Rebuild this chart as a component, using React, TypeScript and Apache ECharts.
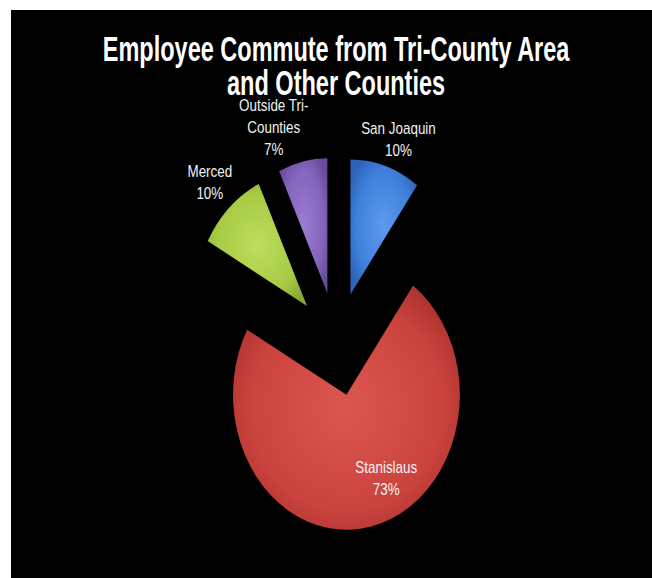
import React, { useEffect, useRef } from 'react';
import * as echarts from 'echarts';

// ---- data ----
const titleLines = ['Employee Commute from Tri-County Area', 'and Other Counties'];
const categories = ['San Joaquin', 'Stanislaus', 'Merced', 'Outside Tri-Counties'];
const labelNames = ['San Joaquin', 'Stanislaus', 'Merced', 'Outside Tri-\nCounties'];
const shares = [10, 73, 10, 7];
const labelInside = [false, true, false, false];

// ---- style ----
const palette = [
  ['#5C9BEE', '#3E7FDA', '#2C63B8'],
  ['#DC5650', '#CC433E', '#A8302D'],
  ['#BCDD5E', '#A6CB44', '#88AA32'],
  ['#9A7CD0', '#8464BC', '#684C9C'],
];
const FONT = "'Liberation Sans', Arial, sans-serif";
const SX = 0.84;
const W = 763;
const H = 568;
const CENTER = [388, 334];
const R = 135;
const OFFSET = 52;
// small label nudges (unscaled px)
const nudge: Record<number, [number, number]> = { 0: [5, 6], 1: [32, 15], 3: [-27, -1] };

const grad = (i: number) => ({
  type: 'radial',
  x: 0.5,
  y: 0.5,
  r: 0.6,
  colorStops: [
    { offset: 0, color: palette[i][0] },
    { offset: 0.7, color: palette[i][1] },
    { offset: 1, color: palette[i][2] },
  ],
});

const layoutFn = (p: any) => {
  const n = nudge[p.dataIndex];
  return n ? { dx: n[0], dy: n[1] } : {};
};

export default function App() {
  const ref = useRef<HTMLDivElement>(null);
  useEffect(() => {
    if (!ref.current) return;
    const chart = echarts.init(ref.current, null, { renderer: 'svg', width: W, height: H });
    const labelStyle = {
      color: '#F2F2F2',
      fontSize: 16,
      lineHeight: 22,
      fontFamily: FONT,
    };
    chart.setOption({
      animation: false,
      backgroundColor: '#000',
      graphic: [
        {
          type: 'text',
          x: 387,
          y: 22,
          scaleX: 0.8,
          style: {
            text: titleLines.join('\n'),
            fill: '#FFFFFF',
            fontSize: 35,
            fontWeight: 'bold',
            fontFamily: FONT,
            lineHeight: 34,
            align: 'center',
            textAlign: 'center',
            verticalAlign: 'top',
            textVerticalAlign: 'top',
          },
        },
      ],
      series: [
        {
          type: 'pie',
          center: CENTER,
          radius: [0, R],
          startAngle: 90,
          clockwise: true,
          selectedMode: 'multiple',
          selectedOffset: OFFSET,
          silent: true,
          avoidLabelOverlap: false,
          labelLine: { show: false },
          select: { itemStyle: { borderWidth: 0 } },
          labelLayout: layoutFn,
          data: categories.map((c, i) => ({
            name: c,
            value: shares[i],
            selected: true,
            itemStyle: { color: grad(i) },
            label: labelInside[i]
              ? {
                  show: true,
                  position: 'inside',
                  formatter: `${labelNames[i]}\n${shares[i]}%`,
                  ...labelStyle,
                }
              : { show: false },
          })),
        },
        {
          type: 'pie',
          center: CENTER,
          radius: [150, 182],
          startAngle: 90,
          clockwise: true,
          selectedMode: 'multiple',
          selectedOffset: OFFSET,
          silent: true,
          avoidLabelOverlap: false,
          labelLine: { show: false },
          select: { itemStyle: { borderWidth: 0 } },
          labelLayout: layoutFn,
          data: categories.map((c, i) => ({
            name: c,
            value: shares[i],
            selected: true,
            itemStyle: { color: 'rgba(0,0,0,0)' },
            label: !labelInside[i]
              ? {
                  show: true,
                  position: 'inside',
                  formatter: `${labelNames[i]}\n${shares[i]}%`,
                  ...labelStyle,
                }
              : { show: false },
          })),
        },
      ],
    });
    return () => chart.dispose();
  }, []);

  return (
    <div
      style={{
        position: 'absolute',
        left: 11,
        top: 10,
        width: 641,
        height: 568,
        background: '#000',
        overflow: 'hidden',
      }}
    >
      <div
        ref={ref}
        style={{ width: W, height: H, transform: `scaleX(${SX})`, transformOrigin: '0 0' }}
      />
    </div>
  );
}
